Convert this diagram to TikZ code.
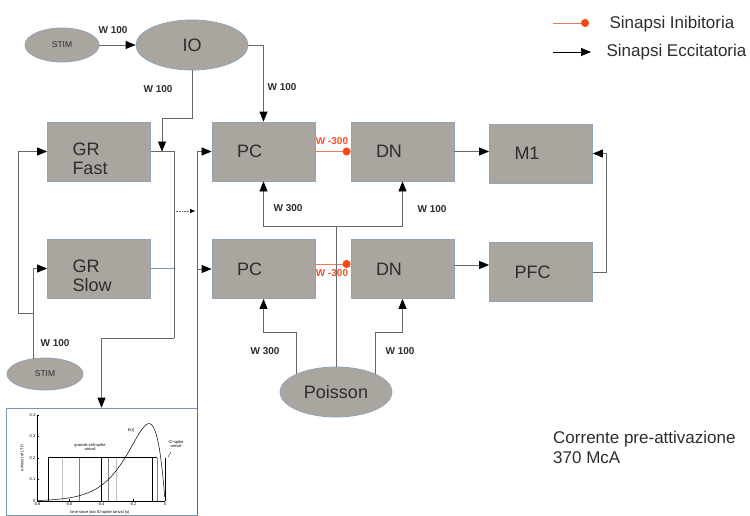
\documentclass[tikz,border=0pt]{standalone}
\usepackage{fontspec}
\setmainfont{Liberation Sans}
\usetikzlibrary{arrows.meta,shapes.geometric,calc}
\definecolor{boxfill}{RGB}{170,165,159}
\definecolor{boxline}{RGB}{143,163,186}
\definecolor{conn}{RGB}{105,105,105}
\definecolor{inhline}{RGB}{240,120,90}
\definecolor{inhdot}{RGB}{250,70,20}
\definecolor{wred}{RGB}{245,80,40}
\definecolor{plotline}{RGB}{120,150,180}
\definecolor{txt}{RGB}{45,45,45}
\begin{document}
\begin{tikzpicture}[x=1pt,y=-1pt,
  boxtext/.style={inner xsep=25pt, inner ysep=0pt, text width=53pt, align=left, font=\fontsize{18}{19}\selectfont, text=txt},
  box/.style={boxtext, draw=boxline, line width=0.8pt, fill=boxfill, minimum width=103pt, minimum height=59pt},
  ell/.style={ellipse, draw=boxline, line width=0.8pt, fill=boxfill, inner sep=0pt, text=txt},
  arr/.style={draw=conn, line width=0.8pt, -{Triangle[length=10pt,width=8pt,color=black]}},
  ln/.style={draw=conn, line width=0.8pt},
  inh/.style={draw=inhline, line width=0.8pt, -{Circle[length=8pt,color=inhdot]}},
  wl/.style={font=\bfseries\fontsize{10}{12}\selectfont, text=txt, inner sep=1pt},
  wr/.style={font=\bfseries\fontsize{10}{12}\selectfont, text=wred, inner sep=1pt},
  tiny/.style={font=\fontsize{4}{4.6}\selectfont, inner sep=0.5pt, align=center}
]
\useasboundingbox (0,0) rectangle (750,515);

% ---------- nodes ----------
\node[ell, minimum width=74pt, minimum height=34pt, font=\fontsize{8.5}{10}\selectfont] (stim1) at (62,45) {STIM};
\node[ell, minimum width=112pt, minimum height=50pt, font=\fontsize{18}{20}\selectfont] (io) at (192,45) {IO};
\node[ell, minimum width=76pt, minimum height=32pt, font=\fontsize{8.5}{10}\selectfont] (stim2) at (45,374) {STIM};
\node[ell, minimum width=112pt, minimum height=50pt, font=\fontsize{18}{20}\selectfont] (poi) at (336,392) {Poisson};

\node[box] (grf) at (99,151.5) {};
\node[boxtext] (grft) at (99,158.5) {GR\\Fast};
\node[box] (grs) at (99,268.5) {};
\node[boxtext] (grst) at (99,275.5) {GR\\Slow};
\node[box] (pc1) at (263.5,151.5) {PC};
\node[box] (dn1) at (402.5,151.5) {DN};
\node[box] (m1) at (541,153.5) {M1};
\node[box] (pc2) at (263.5,269) {PC};
\node[box] (dn2) at (402.5,269) {DN};
\node[box] (pfc) at (541,272) {PFC};

\node[draw=plotline, fill=white, line width=0.6pt, minimum width=191pt, minimum height=107pt, inner sep=0pt] (plot) at (101.5,461.5) {};

% ---------- coordinates ----------
\coordinate (j1a) at (162,118);
\coordinate (j1) at (162,151.5);
\coordinate (k1) at (174,338);
\coordinate (d1) at (174,211);
\coordinate (d2) at (195,211);
\coordinate (v1) at (197,151.5);
\coordinate (v2) at (197,515);
\coordinate (s2) at (33,359);
\coordinate (s2b) at (33,313);
\coordinate (s2c) at (18,313);
\coordinate (pm) at (606,272);
\coordinate (j2) at (336,226);
\coordinate (jl) at (263.5,332);
\coordinate (jr) at (402.5,332);

% ---------- connectors ----------
\draw[arr] (stim1) -- (io);
\draw[arr] (io.south) |- (j1a) -- (j1);
\draw[arr] (io.east) -| (pc1.north);
\draw[ln] (grf.east) -| (k1);
\draw[arr] (k1) -| (plot.north);
\draw[draw=boxline!90!black, line width=0.8pt] (grs.east) -- (grs.east -| k1);
\draw[conn, densely dotted, line width=0.6pt, -{Triangle[length=5pt,width=4pt,color=black]}] (d1) -- (d2);
\draw[ln] (v2) -- (v1);
\draw[arr] (v1) -- (pc1.west);
\draw[arr] (v1 |- pc2.west) -- (pc2.west);
\draw[arr] (s2) |- (grs.west);
\draw[arr] (s2b) -- (s2c) |- (grf.west);
\draw[inh] (pc1.east) -- (dn1.west);
\draw[inh] (pc2.east |- 0,264) -- (dn2.west |- 0,264);
\draw[arr] (dn1.east) -- (dn1.east -| m1.west);
\draw[arr] (dn2.east |- 0,265) -- (pfc.west |- 0,265);
\draw[arr] (pfc.east) -- (pm) |- (m1.east);
\draw[ln] (poi.north) -- (j2);
\draw[arr] (j2) -| (pc1.south);
\draw[arr] (j2) -| (dn1.south);
\draw[arr] (poi.155) |- (jl) -- (pc2.south);
\draw[arr] (poi.25) |- (jr) -- (dn2.south);

% ---------- weight labels ----------
\node[wl] (w1) at (113,30) {W 100};
\node[wl] (w2) at (158,89) {W 100};
\node[wl] (w3) at (282,87) {W 100};
\node[wl] (w4) at (55,343) {W 100};
\node[wr] (w5) at (332,141) {W -300};
\node[wr] (w6) at (332,273) {W -300};
\node[wl] (w7) at (288,208) {W 300};
\node[wl] (w8) at (432,209) {W 100};
\node[wl] (w9) at (265,351) {W 300};
\node[wl] (w10) at (400,351) {W 100};

% ---------- legend ----------
\coordinate (l1a) at (553,23);
\coordinate (l1b) at (589,23);
\coordinate (l2a) at (553,52);
\coordinate (l2b) at (591,52);
\draw[inh] (l1a) -- (l1b);
\draw[arr, draw=black] (l2a) -- (l2b);
\node[anchor=west, font=\fontsize{17}{20}\selectfont, text=txt] (leg1) at (606,24) {Sinapsi Inibitoria};
\node[anchor=west, font=\fontsize{17}{20}\selectfont, text=txt] (leg2) at (603,52) {Sinapsi Eccitatoria};

\node[anchor=north west, align=left, inner sep=0pt, font=\fontsize{17}{20}\selectfont, text=txt] (cor) at (553,431) {Corrente pre-attivazione\\370 McA};

% ---------- inset plot ----------
\draw[black, line width=0.4pt] (37,415) -- (37,501) -- (165,501);
\foreach \v/\lab in {0/0,1/0.1,2/0.2,3/0.3,4/0.4}{
  \draw[black, line width=0.3pt] (37,501-21.5*\v) -- (39,501-21.5*\v);
  \node[tiny, anchor=east] at (36,501-21.5*\v) {\lab};
}
\foreach \t/\lab in {0/-0.8,1/-0.6,2/-0.4,3/-0.2,4/0}{
  \draw[black, line width=0.3pt] (37+32*\t,501) -- (37+32*\t,499);
  \node[tiny, anchor=north] at (37+32*\t,502) {\lab};
}
\foreach \xx/\cc in {48/black,62/gray!50,79/gray,101/black,108/gray,116/gray!50,152/black,157/gray,165/black}{
  \draw[\cc, line width=0.7pt] (\xx,458) -- (\xx,501);
}
\draw[black, line width=0.5pt] (48,457) -- (157,457);
\draw[black, line width=0.5pt, domain=0.002:0.8, samples=90, smooth] plot ({165-160*\x},{501-77.4*(\x*10)*exp(1-\x*10)});
\node[tiny] (gl) at (90,447) {granule-cell-spike\\arrival};
\node[tiny] (kl) at (131,430) {K(t)};
\node[tiny] (iol) at (176,444) {IO-spike\\arrival};
\draw[black, line width=0.3pt] (171,452) -- (168,457);
\node[tiny, rotate=90] (yl) at (22,458) {amount of LTD};
\node[tiny] (xl) at (100,512) {time since last IO-spike arrival (s)};
\end{tikzpicture}
\end{document}
